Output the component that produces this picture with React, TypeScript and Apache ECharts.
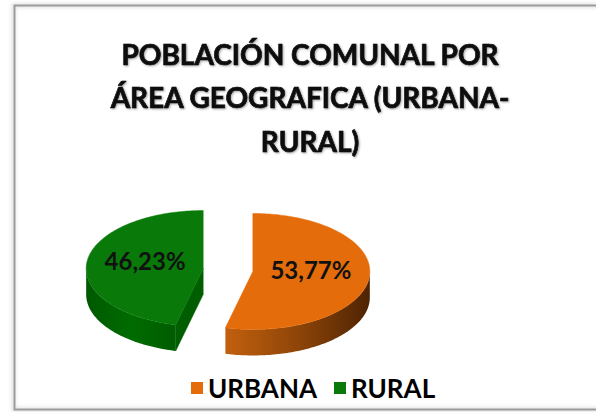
import React, { useEffect, useRef } from "react";
import * as echarts from "echarts";

const categories = ["URBANA", "RURAL"];
const values = [53.77, 46.23];
const titleLines = ["POBLACIÓN COMUNAL POR", "ÁREA GEOGRAFICA (URBANA-", "RURAL)"];

const topColors = ["#E46C0A", "#097A09"];
const wallStops = [
  ["#C2600E", "#8E4508", "#4E2303"],
  ["#005800", "#006C00", "#005C00"],
];
const cutColors = ["#9A4A08", "#005E00"];

const CX = 228, CY = 270, RX = 117, RY = 58, DEPTH = 26, EXPLODE = 25;

function fmt(v: number) {
  return v.toFixed(2).replace(".", ",") + "%";
}

function makeRenderItem(i: number) {
  return (params: any, api: any) => {
    const total = values.reduce((a, b) => a + b, 0);
    let before = 0;
    for (let k = 0; k < i; k++) before += values[k];
    const s = (before / total) * Math.PI * 2;
    const e = s + (api.value(0) / total) * Math.PI * 2;
    const mid = (s + e) / 2;
    const ox = CX + EXPLODE * Math.sin(mid);
    const oy = CY - EXPLODE * (RY / RX) * Math.cos(mid);
    const pt = (a: number, dz = 0) => [ox + RX * Math.sin(a), oy - RY * Math.cos(a) + dz];
    const arc = (a0: number, a1: number, dz = 0) => {
      const n = Math.max(8, Math.ceil(Math.abs(a1 - a0) / 0.02));
      const out: number[][] = [];
      for (let k = 0; k <= n; k++) out.push(pt(a0 + ((a1 - a0) * k) / n, dz));
      return out;
    };
    const children: any[] = [];
    if (Math.sin(s) < -1e-6) {
      const p = pt(s);
      children.push({
        type: "polygon",
        shape: { points: [[ox, oy], p, [p[0], p[1] + DEPTH], [ox, oy + DEPTH]] },
        style: { fill: cutColors[i], stroke: cutColors[i], lineWidth: 0.5 },
      });
    }
    if (Math.sin(e) > 1e-6) {
      const p = pt(e);
      children.push({
        type: "polygon",
        shape: { points: [[ox, oy], p, [p[0], p[1] + DEPTH], [ox, oy + DEPTH]] },
        style: { fill: cutColors[i], stroke: cutColors[i], lineWidth: 0.5 },
      });
    }
    const a0 = Math.max(s, Math.PI / 2);
    const a1 = Math.min(e, (Math.PI * 3) / 2);
    if (a1 > a0) {
      const pts = arc(a0, a1).concat(arc(a1, a0, DEPTH));
      const st = wallStops[i];
      children.push({
        type: "polygon",
        shape: { points: pts },
        style: {
          fill: {
            type: "linear", x: 0, y: 0, x2: 1, y2: 0,
            colorStops: [
              { offset: 0, color: st[0] },
              { offset: 0.5, color: st[1] },
              { offset: 1, color: st[2] },
            ],
          },
        },
      });
    }
    children.push({
      type: "polygon",
      shape: { points: [[ox, oy]].concat(arc(s, e)) },
      style: { fill: topColors[i], stroke: topColors[i], lineWidth: 0.5 },
    });
    children.push({
      type: "text",
      x: ox + 0.5 * RX * Math.sin(mid),
      y: oy - 0.5 * RY * Math.cos(mid) - 5,
      style: {
        text: fmt(api.value(0)),
        align: "center",
        verticalAlign: "middle",
        font: "bold 24px Lato",
        fill: "#111",
      },
    });
    return { type: "group", children };
  };
}

export default function App() {
  const ref = useRef<HTMLDivElement>(null);
  useEffect(() => {
    if (!ref.current) return;
    const chart = echarts.init(ref.current, null, { renderer: "svg" });
    chart.setOption({
      animation: false,
      backgroundColor: "#ffffff",
      graphic: [
        {
          type: "rect",
          shape: { x: 14.5, y: 5.5, width: 640, height: 404 },
          style: {
            fill: "transparent",
            stroke: "#9a9a9a",
            lineWidth: 2,
            shadowBlur: 4,
            shadowColor: "rgba(0,0,0,0.25)",
            shadowOffsetX: -1,
            shadowOffsetY: 0,
          },
          silent: true,
        },
        {
          type: "text",
          x: 310,
          y: 32,
          style: {
            text: titleLines.join("\n"),
            align: "center",
            verticalAlign: "top",
            font: "bold 28px Lato",
            lineHeight: 43.5,
            fill: "#0a0a0a",
            stroke: "#0a0a0a",
            lineWidth: 0.7,
            textShadowColor: "rgba(0,0,0,0.35)",
            textShadowBlur: 2,
            textShadowOffsetX: 1,
            textShadowOffsetY: 1,
          },
        },
      ],
      legend: {
        data: categories,
        left: 186,
        top: 370,
        icon: "rect",
        itemWidth: 12,
        itemHeight: 12,
        itemGap: 17,
        textStyle: {
          fontFamily: "Lato",
          fontWeight: "bold",
          fontSize: 26,
          color: "#000",
        },
      },
      series: categories.map((name, i) => ({
        type: "custom",
        name,
        coordinateSystem: "none",
        itemStyle: { color: topColors[i] },
        data: [[values[i]]],
        renderItem: makeRenderItem(i),
      })),
    });
    return () => chart.dispose();
  }, []);
  return (
    <div
      ref={ref}
      style={{ position: "fixed", left: 0, top: 0, width: 596, height: 412, background: "#fff" }}
    />
  );
}
